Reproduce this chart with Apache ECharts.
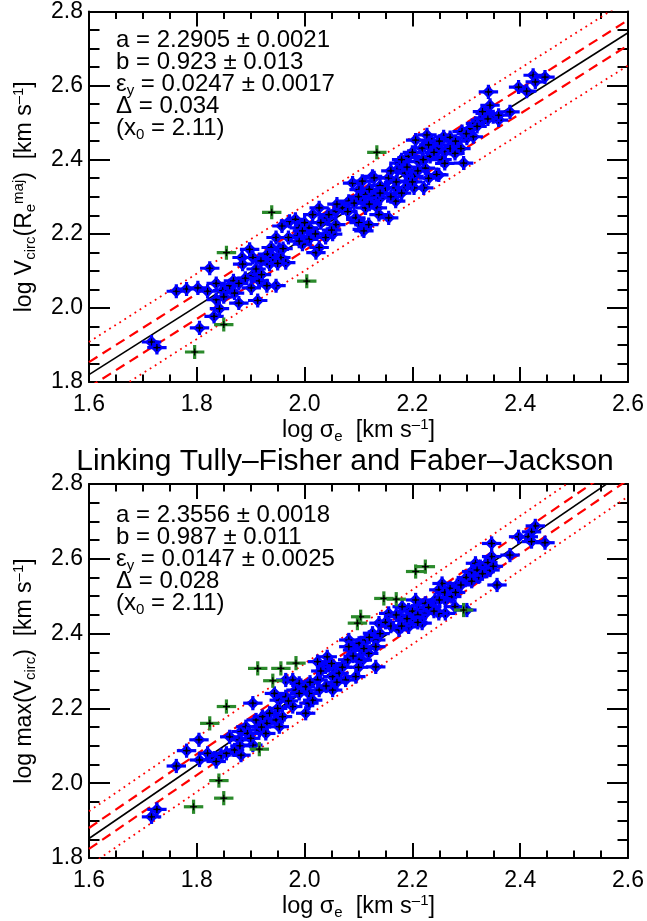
<!DOCTYPE html>
<html><head><meta charset="utf-8">
<script src="https://cdn.jsdelivr.net/npm/echarts@6/dist/echarts.min.js"></script>
<style>html,body{margin:0;padding:0;background:#fff}#c{width:647px;height:921px}</style>
</head><body><div id="c"></div>
<script>
// ---------- data ----------
const xTickMin = 1.6, xTickMax = 2.6, yTickMin = 1.8, yTickMax = 2.8, tickStep = 0.2;
const xErr = 0.018, yErr = 0.019;

// top panel: log V_circ(R_e^maj) vs log sigma_e
const topInliers = [
[1.716,1.908],[1.726,1.893],[1.805,1.946],[1.832,1.977],[1.842,1.998],[1.836,2.022],[1.762,2.045],[1.781,2.051],[1.802,2.054],[1.820,2.045],[1.836,2.066],[1.848,2.047],[1.824,2.107],[1.861,2.060],[1.868,2.073],[1.878,2.066],[1.878,2.013],[1.901,2.054],[1.913,2.020],[1.947,2.060],[1.904,2.087],[1.916,2.073],[1.884,2.136],[1.898,2.158],[1.885,2.118],[1.904,2.136],[1.910,2.105],[1.919,2.127],[1.931,2.145],[1.938,2.163],[1.947,2.190],[1.953,2.158],[1.935,2.118],[1.941,2.136],[1.956,2.136],[1.965,2.122],[1.958,2.221],[1.972,2.234],[1.983,2.239],[1.990,2.216],[1.987,2.194],[1.996,2.172],[2.008,2.216],[2.015,2.252],[2.027,2.270],[2.008,2.185],[2.021,2.149],[2.027,2.163],[2.042,2.243],[2.042,2.199],[2.058,2.261],[2.058,2.225],[2.070,2.270],[2.082,2.288],[2.089,2.337],[2.107,2.342],[2.126,2.355],[2.107,2.297],[2.095,2.239],[2.107,2.212],[2.119,2.315],[2.126,2.288],[2.052,2.199],[2.039,2.190],
[2.045,2.252],[2.095,2.243],[2.101,2.230],[2.110,2.208],[2.119,2.225],[2.135,2.270],[2.138,2.252],[1.996,2.208],[2.101,2.319],[2.113,2.306],[2.129,2.301],[2.113,2.270],[2.092,2.283],
[2.341,2.583],[2.397,2.596],[2.412,2.585],[2.424,2.628],[2.428,2.610],[2.446,2.623],[2.381,2.529],[2.344,2.547],[2.350,2.516],[2.360,2.507],[2.335,2.525],[2.326,2.507],[2.317,2.498],[2.307,2.484],[2.292,2.476],[2.301,2.458],[2.313,2.462],[2.206,2.453],[2.227,2.467],[2.236,2.449],[2.258,2.462],[2.273,2.440],[2.218,2.431],[2.249,2.431],[2.261,2.422],[2.233,2.409],[2.255,2.400],[2.279,2.417],[2.295,2.391],[2.249,2.359],[2.224,2.377],[2.212,2.395],[2.193,2.409],[2.175,2.391],[2.172,2.373],[2.187,2.364],[2.203,2.355],[2.221,2.324],[2.193,2.342],[2.156,2.351],[2.150,2.324],[2.169,2.324],[2.129,2.351],[2.141,2.297],[2.169,2.288],[2.156,2.243],[2.187,2.324],[2.203,2.324],[2.245,2.360],
[2.160,2.370],[2.180,2.400],[2.200,2.420],[2.210,2.370],[2.230,2.440],[2.240,2.420],[2.250,2.450],[2.270,2.460],[2.280,2.450],[2.260,2.390],[2.270,2.430],[2.230,2.350],[2.190,2.380],[2.170,2.340],[2.160,2.300],[2.140,2.330],[2.120,2.320],[2.100,2.300],[2.080,2.260],[2.060,2.280],[2.050,2.210],[2.030,2.230],[2.020,2.200],[2.000,2.230],[1.990,2.180],[1.970,2.190],[1.960,2.160],[1.950,2.120],[1.920,2.090],[1.930,2.060],[1.890,2.080],[1.870,2.040],[1.850,2.030],[2.120,2.280],[2.140,2.310],[2.180,2.310],[2.200,2.340],[2.220,2.400],[2.290,2.430],[2.300,2.470],[2.320,2.490],[2.340,2.510],[2.330,2.530],[2.360,2.520]
];
const topOutliers = [[1.796,1.881],[1.850,1.955],[2.004,2.072],[1.855,2.149],[1.939,2.258],[2.134,2.420]];
const topFit = [2.2905, 0.923, 2.11, 0.034];   // a, b, x0, Delta
const topAnno = ['a = 2.2905 ± 0.0021','b = 0.923 ± 0.013','{n|ε}{s|y}{n| = 0.0247 ± 0.0017}','Δ = 0.034','{n|(x}{s|0}{n| = 2.11)}'];

// bottom panel: log max(V_circ) vs log sigma_e
const botInliers = [
[1.716,1.910],[1.726,1.930],[1.762,2.046],[1.781,2.087],[1.804,2.116],[1.805,2.062],[1.820,2.080],[1.833,2.067],[1.845,2.075],[1.836,2.058],[1.855,2.080],[1.870,2.089],[1.882,2.075],[1.861,2.124],[1.879,2.116],[1.882,2.138],[1.891,2.151],[1.904,2.102],[1.894,2.133],[1.910,2.169],[1.922,2.178],[1.935,2.187],[1.947,2.169],[1.953,2.151],[1.959,2.178],[1.904,2.214],[1.916,2.142],[1.928,2.133],[1.944,2.240],[1.953,2.222],[1.965,2.231],[1.978,2.205],[2.002,2.187],[2.008,2.214],[2.015,2.222],[1.984,2.249],[1.965,2.276],[1.978,2.276],[1.990,2.267],[2.024,2.325],[2.042,2.338],[2.039,2.311],[2.024,2.276],[2.052,2.285],[2.027,2.249],[2.052,2.249],[2.064,2.294],[2.076,2.276],[2.095,2.285],[2.089,2.356],[2.101,2.374],[2.113,2.383],[2.126,2.401],[2.107,2.329],[2.132,2.311],[2.119,2.347],[2.082,2.383],[2.008,2.240],
[2.428,2.688],[2.421,2.672],[2.397,2.659],[2.415,2.659],[2.421,2.646],[2.446,2.643],[2.347,2.641],[2.381,2.610],[2.347,2.606],[2.357,2.530],[2.317,2.588],[2.326,2.579],[2.335,2.583],[2.344,2.570],[2.310,2.566],[2.323,2.552],[2.298,2.543],[2.286,2.534],[2.270,2.521],[2.255,2.534],[2.249,2.517],[2.273,2.499],[2.261,2.490],[2.242,2.490],[2.236,2.472],[2.224,2.481],[2.206,2.490],[2.212,2.463],[2.193,2.463],[2.181,2.472],[2.175,2.445],[2.200,2.441],[2.224,2.454],[2.218,2.428],[2.193,2.418],[2.175,2.410],[2.156,2.454],[2.138,2.428],[2.261,2.454],[2.249,2.454],[2.132,2.383],[2.082,2.365],[2.107,2.356],[2.101,2.329],[2.132,2.365],[2.052,2.311],[2.002,2.258],[2.301,2.463],[2.279,2.472],
[2.030,2.300],[2.050,2.320],[2.070,2.310],[2.080,2.330],[2.060,2.270],[2.040,2.260],[2.010,2.270],[1.990,2.240],[1.970,2.220],[1.950,2.200],[1.930,2.160],[1.920,2.150],[1.900,2.120],[1.880,2.100],[2.110,2.360],[2.120,2.390],[2.140,2.400],[2.150,2.430],[2.160,2.420],[2.170,2.450],[2.190,2.440],[2.200,2.460],[2.210,2.450],[2.230,2.470],[2.240,2.460],[2.250,2.490],[2.260,2.510],[2.280,2.510],[2.290,2.530],[2.300,2.550],[2.310,2.540],[2.320,2.570],[2.330,2.560],[2.340,2.590],[2.350,2.580],[2.180,2.420],[2.210,2.430],[2.090,2.340],[2.100,2.310]
];
const botOutliers = [[1.794,1.937],[1.850,1.960],[1.841,2.007],[1.916,2.091],[1.824,2.160],[1.855,2.205],[1.941,2.274],[1.913,2.307],[1.956,2.307],[1.984,2.321],[2.104,2.445],[2.098,2.428],[2.206,2.566],[2.224,2.579],[2.147,2.494],[2.170,2.492],[2.295,2.463]];
const botFit = [2.3556, 0.987, 2.11, 0.028];
const botAnno = ['a = 2.3556 ± 0.0018','b = 0.987 ± 0.011','{n|ε}{s|y}{n| = 0.0147 ± 0.0025}','Δ = 0.028','{n|(x}{s|0}{n| = 2.11)}'];

const chartTitle = 'Linking Tully–Fisher and Faber–Jackson';
const xName = 'log σ{s|e}  [km s{p|–1}]';
const topYName = 'log V{s|circ}(R{s|e}{p|maj})  [km s{p|–1}]';
const botYName = 'log max(V{s|circ})  [km s{p|–1}]';
const clipFactor = 2.6;

// ---------- styling ----------
const FONT = '"Liberation Sans", Arial, Helvetica, sans-serif';
const BLUE = '#0000ff', GREEN = '#2b8a2b', RED = '#ff0000';
const grids = [
  {left: 89, top: 9, width: 541, height: 373},
  {left: 89, top: 484, width: 541, height: 374}
];
const richName = {
  s: {fontSize: 15, fontFamily: FONT, color: '#000', padding: [12, 0, 0, 0]},
  p: {fontSize: 15, fontFamily: FONT, color: '#000', padding: [0, 0, 12, 0]}
};
function xAxisCfg(g, pos) {
  const isBottom = pos === 'bottom';
  return {
    type: 'value', gridIndex: g, position: pos, min: xTickMin, max: xTickMax, interval: tickStep,
    axisLine: {show: true, onZero: false, lineStyle: {color: '#000', width: 2}},
    axisTick: {show: true, inside: true, length: 15, lineStyle: {color: '#000', width: 2}},
    minorTick: {show: true, splitNumber: 4, length: 7.5, lineStyle: {color: '#000', width: 2}},
    splitLine: {show: false}, minorSplitLine: {show: false},
    axisLabel: {show: isBottom, fontSize: 23, color: '#000', fontFamily: FONT, margin: 11,
      showMinLabel: true, showMaxLabel: true, formatter: v => v.toFixed(1)},
    name: isBottom ? xName : '', nameLocation: 'middle', nameGap: 35,
    nameTextStyle: {fontSize: 23.5, color: '#000', fontFamily: FONT, rich: richName}
  };
}
function yAxisCfg(g, pos, name) {
  const isLeft = pos === 'left';
  return {
    type: 'value', gridIndex: g, position: pos, min: yTickMin, max: yTickMax, interval: tickStep,
    axisLine: {show: true, onZero: false, lineStyle: {color: '#000', width: 2}},
    axisTick: {show: true, inside: true, length: 21, lineStyle: {color: '#000', width: 2}},
    minorTick: {show: true, splitNumber: 4, length: 10.5, lineStyle: {color: '#000', width: 2}},
    splitLine: {show: false}, minorSplitLine: {show: false},
    axisLabel: {show: isLeft, fontSize: 23, color: '#000', fontFamily: FONT, margin: 6,
      showMinLabel: true, showMaxLabel: true, formatter: v => v.toFixed(1)},
    name: isLeft ? name : '', nameLocation: 'middle', nameGap: 51,
    nameTextStyle: {fontSize: 23, color: '#000', fontFamily: FONT, rich: richName}
  };
}
function pointRender(color, withDiamond) {
  return function (params, api) {
    const x = api.value(0), y = api.value(1);
    const c = api.coord([x, y]);
    const l = api.coord([x - xErr, y]), r = api.coord([x + xErr, y]);
    const t = api.coord([x, y + yErr]), b = api.coord([x, y - yErr]);
    const ch = [
      {type: 'line', shape: {x1: l[0], y1: l[1], x2: r[0], y2: r[1]}, style: {stroke: color, lineWidth: 3.2}},
      {type: 'line', shape: {x1: t[0], y1: t[1], x2: b[0], y2: b[1]}, style: {stroke: color, lineWidth: 3.2}}
    ];
    if (withDiamond) {
      const d = 6.5;
      ch.push({type: 'polygon', shape: {points: [[c[0], c[1] - d], [c[0] + d, c[1]], [c[0], c[1] + d], [c[0] - d, c[1]]]}, style: {fill: color}});
    }
    ch.push({type: 'line', shape: {x1: c[0] - 3.5, y1: c[1], x2: c[0] + 3.5, y2: c[1]}, style: {stroke: '#000', lineWidth: 1.2}});
    ch.push({type: 'line', shape: {x1: c[0], y1: c[1] - 3.5, x2: c[0], y2: c[1] + 3.5}, style: {stroke: '#000', lineWidth: 1.2}});
    ch.push({type: 'circle', shape: {cx: c[0], cy: c[1], r: 1.4}, style: {fill: '#000'}});
    return {type: 'group', children: ch};
  };
}
function fitSeries(g, fit) {
  const [a, b, x0, dl] = fit;
  const offsets = [[0, 'solid', '#000', 1.6], [dl, [10, 6], RED, 2.2], [-dl, [10, 6], RED, 2.2],
                   [clipFactor * dl, [1.8, 4.2], RED, 1.8], [-clipFactor * dl, [1.8, 4.2], RED, 1.8]];
  return offsets.map(([off, type, color, w]) => ({
    type: 'line', xAxisIndex: 2 * g, yAxisIndex: 2 * g, clip: true, symbol: 'none', silent: true,
    z: 2, lineStyle: {color, width: w, type},
    data: [xTickMin, xTickMax].map(x => [x, a + b * (x - x0) + off])
  }));
}
function pointSeries(g, data, color, withDiamond) {
  return {type: 'custom', xAxisIndex: 2 * g, yAxisIndex: 2 * g, z: 3, clip: true,
    renderItem: pointRender(color, withDiamond), encode: {x: 0, y: 1}, data};
}
const richAnno = {
  n: {fontSize: 24, fontFamily: FONT, fill: '#000'},
  s: {fontSize: 15, fontFamily: FONT, fill: '#000', padding: [13, 0, 0, 0]}
};
const graphic = [];
[topAnno, botAnno].forEach((lines, g) => {
  lines.forEach((txt, i) => {
    graphic.push({type: 'text', x: 116, y: grids[g].top + 31 + 22 * i,
      style: {text: txt, font: '24px ' + FONT, fill: '#000', verticalAlign: 'middle', align: 'left', rich: richAnno}});
  });
});
graphic.push({type: 'text', x: 345, y: 462, style: {text: chartTitle, font: '30px ' + FONT, fill: '#000', align: 'center', verticalAlign: 'middle'}});

const option = {
  backgroundColor: '#fff', animation: false,
  grid: grids,
  xAxis: [xAxisCfg(0, 'bottom'), xAxisCfg(0, 'top'), xAxisCfg(1, 'bottom'), xAxisCfg(1, 'top')],
  yAxis: [yAxisCfg(0, 'left', topYName), yAxisCfg(0, 'right', ''), yAxisCfg(1, 'left', botYName), yAxisCfg(1, 'right', '')],
  series: [
    ...fitSeries(0, topFit), ...fitSeries(1, botFit),
    pointSeries(0, topInliers, BLUE, true), pointSeries(0, topOutliers, GREEN, false),
    pointSeries(1, botInliers, BLUE, true), pointSeries(1, botOutliers, GREEN, false)
  ],
  graphic
};
const chart = echarts.init(document.getElementById('c'), null, {renderer: 'canvas'});
chart.setOption(option);
</script></body></html>
